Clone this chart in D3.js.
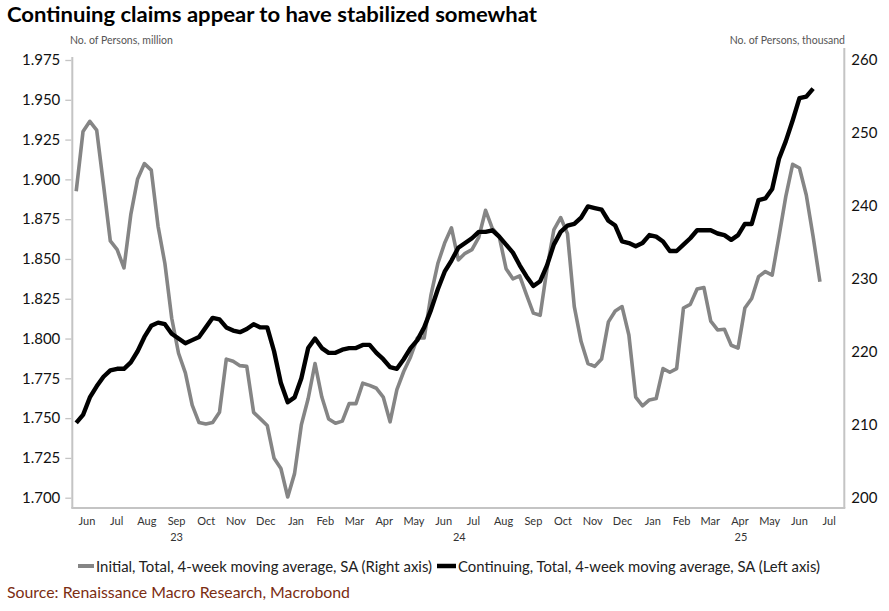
<!DOCTYPE html>
<html><head><meta charset="utf-8">
<script src="https://cdn.jsdelivr.net/npm/d3@7"></script>
<style>
body{margin:0;background:#fff;}
svg{display:block;font-family:Lato, "Open Sans", sans-serif;}
</style></head>
<body>
<svg id="chart" width="889" height="611"></svg>
<script>
// ---- data ----
const firstWeek = "2023-06-05";
const initialClaims = [ // thousand, right axis
242.0,250.2,251.6,250.4,242.9,235.2,234.0,231.5,238.8,243.7,245.8,244.9,237.2,232.1,224.6,219.8,217.1,212.7,210.3,210.1,
210.3,211.7,219.0,218.7,218.1,218.0,211.7,210.8,209.9,205.4,204.0,200.1,203.3,210.0,213.6,218.4,213.8,210.8,210.2,210.5,
212.9,212.9,215.7,215.4,215.0,213.8,210.4,214.8,217.3,219.3,221.9,221.9,227.8,232.1,234.9,237.0,232.6,233.5,234.0,235.7,
239.4,236.9,235.8,231.4,230.0,230.4,227.8,225.3,225.0,231.4,236.7,238.4,236.2,226.2,221.4,218.4,218.0,219.0,224.1,225.6,
226.2,222.3,213.8,212.6,213.4,213.6,217.7,217.2,217.7,226.0,226.5,228.6,228.8,224.2,223.0,223.1,220.9,220.5,226.0,227.3,
230.3,231.0,230.5,235.8,241.3,245.7,245.2,241.5,235.8,229.6];
const continuingClaims = [ // million, left axis
1.747,1.752,1.763,1.770,1.776,1.780,1.781,1.781,1.785,1.792,1.801,1.808,1.810,1.809,1.803,1.800,1.797,1.799,1.801,1.807,
1.813,1.812,1.807,1.805,1.804,1.806,1.809,1.807,1.807,1.792,1.772,1.760,1.763,1.775,1.794,1.800,1.794,1.791,1.791,1.793,
1.794,1.794,1.796,1.796,1.791,1.787,1.782,1.781,1.787,1.794,1.799,1.807,1.818,1.831,1.842,1.849,1.857,1.860,1.863,1.867,
1.867,1.868,1.864,1.859,1.854,1.846,1.839,1.833,1.836,1.846,1.859,1.867,1.871,1.872,1.876,1.883,1.882,1.881,1.874,1.871,
1.861,1.860,1.858,1.860,1.865,1.864,1.861,1.855,1.855,1.859,1.863,1.868,1.868,1.868,1.866,1.865,1.862,1.865,1.872,1.872,
1.887,1.888,1.894,1.913,1.924,1.937,1.951,1.952,1.957];
const leftTicks = [1.700,1.725,1.750,1.775,1.800,1.825,1.850,1.875,1.900,1.925,1.950,1.975];
const rightTicks = [200,210,220,230,240,250,260];
const monthNames = ["Jan","Feb","Mar","Apr","May","Jun","Jul","Aug","Sep","Oct","Nov","Dec"];
const xStart = "2023-06-01", xEnd = "2025-08-01";

const title = "Continuing claims appear to have stabilized somewhat";
const leftUnit = "No. of Persons, million";
const rightUnit = "No. of Persons, thousand";
const legend1 = "Initial, Total, 4-week moving average, SA (Right axis)";
const legend2 = "Continuing, Total, 4-week moving average, SA (Left axis)";
const source = "Source: Renaissance Macro Research, Macrobond";

// ---- layout ----
const svg = d3.select("#chart");
const L = 72.3, R = 844.3, B = 508, yTop = 60, yBot = 497.7;
const parse = d3.utcParse("%Y-%m-%d");
const x = d3.scaleUtc().domain([parse(xStart), parse(xEnd)]).range([L, R]);
const yL = d3.scaleLinear().domain([1.700, 1.975]).range([yBot, yTop]);
const yR = d3.scaleLinear().domain([200, 260]).range([yBot, yTop]);
const d0 = parse(firstWeek);
const dates = n => d3.range(n).map(i => d3.utcDay.offset(d0, 7 * i));
const gDates = dates(initialClaims.length), bDates = dates(continuingClaims.length);

// title
svg.append("text").attr("x", 7).attr("y", 22).attr("font-size", 21).attr("font-weight", 700)
  .attr("fill", "#000").attr("textLength", 530).attr("lengthAdjust", "spacingAndGlyphs").text(title);

// unit labels
svg.append("text").attr("x", 70).attr("y", 44).attr("font-size", 10.5).attr("fill", "#555").text(leftUnit);
svg.append("text").attr("x", 845).attr("y", 44).attr("font-size", 10.5).attr("fill", "#555")
  .attr("text-anchor", "end").text(rightUnit);

// axes lines
const axisCol = "#c4c4c4";
svg.append("line").attr("x1", L).attr("x2", L).attr("y1", 57).attr("y2", B).attr("stroke", axisCol).attr("stroke-width", 2);
svg.append("line").attr("x1", R).attr("x2", R).attr("y1", 48).attr("y2", B).attr("stroke", axisCol).attr("stroke-width", 2);
svg.append("line").attr("x1", L - 1).attr("x2", R + 1).attr("y1", B).attr("y2", B).attr("stroke", axisCol).attr("stroke-width", 2);

// left axis
const gl = svg.append("g").attr("transform", `translate(${L - 1},0)`)
  .call(d3.axisLeft(yL).tickValues(leftTicks).tickFormat(d3.format(".3f")).tickSize(6).tickPadding(5));
gl.select(".domain").remove();
gl.selectAll(".tick line").attr("stroke", axisCol).attr("stroke-width", 1.3);
gl.selectAll(".tick text").attr("font-size", 15).attr("fill", "#111").attr("font-family", "Lato");

// right axis
const gr = svg.append("g").attr("transform", `translate(${R + 1},0)`)
  .call(d3.axisRight(yR).tickValues(rightTicks).tickSize(0).tickPadding(6));
gr.select(".domain").remove();
gr.selectAll(".tick text").attr("font-size", 15).attr("fill", "#111").attr("font-family", "Lato");

// month labels
const months = d3.utcMonth.range(parse(xStart), parse(xEnd));
svg.append("g").selectAll("text").data(months).join("text")
  .attr("x", d => x(new Date((+d + +d3.utcMonth.offset(d, 1)) / 2)))
  .attr("y", 525).attr("text-anchor", "middle").attr("font-size", 11).attr("fill", "#333")
  .text(d => monthNames[d.getUTCMonth()]);
// year labels
const years = [2023, 2024, 2025];
svg.append("g").selectAll("text").data(years).join("text")
  .attr("x", yr => {
    const a = d3.max([new Date(Date.UTC(yr, 0, 1)), parse(xStart)]);
    const b = d3.min([new Date(Date.UTC(yr + 1, 0, 1)), parse(xEnd)]);
    return x(new Date((+a + +b) / 2));
  })
  .attr("y", 541).attr("text-anchor", "middle").attr("font-size", 11).attr("fill", "#333")
  .text(yr => String(yr).slice(2));

// lines
const plot = svg.append("g");
plot.append("path").datum(initialClaims)
  .attr("d", d3.line().x((d, i) => x(gDates[i])).y(d => yR(d)))
  .attr("fill", "none").attr("stroke", "#858585").attr("stroke-width", 3.6).attr("stroke-linejoin", "round");
plot.append("path").datum(continuingClaims)
  .attr("d", d3.line().x((d, i) => x(bDates[i])).y(d => yL(d)))
  .attr("fill", "none").attr("stroke", "#000").attr("stroke-width", 4.4).attr("stroke-linejoin", "round");

// legend
const lg = svg.append("g");
lg.append("line").attr("x1", 78).attr("x2", 94).attr("y1", 566).attr("y2", 566).attr("stroke", "#858585").attr("stroke-width", 4);
lg.append("text").attr("x", 96).attr("y", 572).attr("font-size", 15).attr("fill", "#222")
  .attr("textLength", 336).attr("lengthAdjust", "spacingAndGlyphs").text(legend1);
lg.append("line").attr("x1", 437).attr("x2", 456).attr("y1", 566).attr("y2", 566).attr("stroke", "#000").attr("stroke-width", 4.5);
lg.append("text").attr("x", 458).attr("y", 572).attr("font-size", 15).attr("fill", "#222")
  .attr("textLength", 362).attr("lengthAdjust", "spacingAndGlyphs").text(legend2);

// source
svg.append("text").attr("x", 7).attr("y", 598).attr("font-size", 15).attr("fill", "#7b2d12")
  .attr("textLength", 343).attr("lengthAdjust", "spacingAndGlyphs").text(source);
</script>
</body></html>
